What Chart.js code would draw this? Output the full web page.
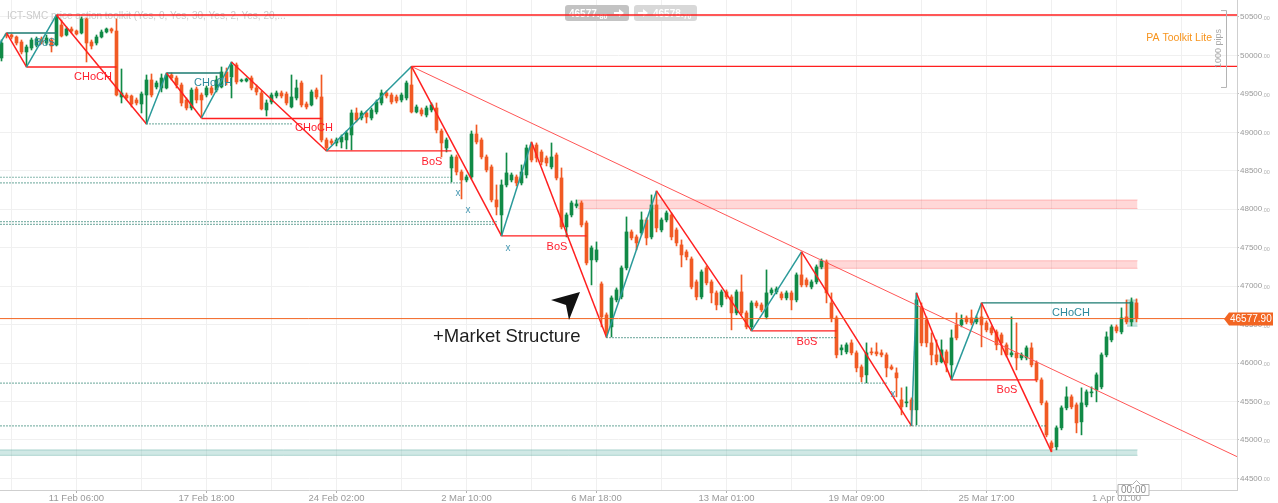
<!DOCTYPE html>
<html><head><meta charset="utf-8">
<script src="https://cdn.jsdelivr.net/npm/chart.js@4/dist/chart.umd.min.js"></script>
<style>html,body{margin:0;padding:0;background:#fff;overflow:hidden}#wrap{width:1278px;height:503px;position:relative}</style>
</head><body><div id="wrap"><canvas id="c" width="1278" height="503"></canvas></div>
<script>
// ---------- DATA ----------
const opens = [
49967,50279,50266,50240,50175,50045,50097,50136,50214,50162,
50201,50136,50396,50266,50344,50318,50292,50474,50175,50162,
50240,50305,50344,50318,49460,49486,49473,49421,49369,49486,
49681,49590,49577,49577,49746,49707,49616,49421,49317,49564,
49486,49486,49577,49551,49590,49785,49720,49876,49668,49668,
49707,49577,49512,49291,49395,49473,49512,49499,49330,49447,
49642,49369,49356,49551,49460,48901,48888,48862,48875,48901,
48966,49252,49187,49252,49187,49265,49382,49512,49486,49460,
49421,49447,49616,49265,49291,49226,49291,49317,49018,48797,
48537,48680,48485,48381,48420,48979,48901,48680,48550,48121,
47926,48316,48381,48420,48342,48446,48836,48836,48745,48667,
48550,48706,48407,47770,47926,48043,48082,47822,47341,47341,
47029,46626,46470,46821,46860,47237,47705,47640,47692,47861,
47640,48056,47731,47861,47926,47731,47536,47445,47354,47055,
46860,47237,47055,46912,46756,46925,46860,46652,46925,46652,
46470,46782,46756,46600,46912,46925,46899,46847,46912,46821,
47146,47081,46990,47055,47250,47315,46782,46587,46171,46145,
46262,46132,45950,45846,46145,46145,46132,46106,45950,45872,
45521,45482,45521,45391,46730,46561,46262,46106,46015,46145,
45976,46496,46496,46587,46587,46535,46600,46522,46457,46405,
46366,46236,46106,46132,46067,46067,46197,46002,45781,45482,
44962,44910,45157,45417,45560,45456,45235,45456,45612,45651,
45690,46106,46301,46470,46405,46600,46535,46782];
const highs = [
50201,50292,50279,50253,50201,50136,50227,50240,50240,50266,
50227,50526,50461,50370,50370,50331,50500,50487,50201,50266,
50331,50357,50357,50474,49824,49512,49486,49447,49525,49746,
49759,49668,49759,49772,49772,49733,49642,49447,49577,49590,
49512,49603,49603,49733,49850,49837,49915,49902,49694,49707,
49733,49616,49538,49421,49512,49538,49538,49525,49746,49681,
49668,49395,49551,49577,49746,48927,48914,48927,48966,49018,
49291,49317,49278,49278,49317,49421,49551,49538,49512,49486,
49512,49668,49857,49356,49317,49343,49382,49382,49044,48927,
48706,48706,48511,48446,49018,49096,48927,48706,48576,48316,
48381,48732,48472,48446,48576,48836,48875,48862,48771,48693,
48862,48732,48537,47952,48108,48121,48108,47848,47523,47575,
47055,46652,46873,46977,47263,47900,47731,47666,47965,47887,
48186,48238,47887,47978,47952,47757,47601,47471,47380,47081,
47211,47263,47081,46938,46951,46951,46886,46951,47146,46678,
46808,46808,46782,47211,46977,46990,46925,46938,46938,47172,
47445,47107,47081,47276,47354,47341,46912,46613,46236,46262,
46301,46158,45976,46262,46197,46262,46171,46132,45976,45937,
45677,45690,45547,46912,46782,46600,46392,46301,46301,46171,
46431,46652,46626,46613,46691,46613,46782,46548,46483,46431,
46392,46262,46600,46522,46132,46223,46262,46028,45807,45508,
44988,45183,45443,45690,45586,45482,45677,45651,45690,45872,
46132,46405,46496,46496,46717,46821,46847,46834];
const lows = [
49928,50227,50214,50136,50019,49850,50071,50110,50149,50136,
50045,50123,50240,50253,50292,50266,50279,49915,50084,50136,
50227,50292,50292,49473,49382,49421,49330,49356,49252,49109,
49460,49564,49525,49564,49681,49577,49343,49291,49291,49382,
49187,49460,49486,49525,49577,49616,49447,49629,49655,49655,
49551,49486,49291,49213,49369,49447,49447,49356,49317,49421,
49330,49304,49343,49434,48875,48758,48836,48823,48797,48784,
48771,49135,49161,49122,49161,49239,49356,49447,49369,49382,
49395,49421,49252,49252,49213,49200,49265,48992,48680,48745,
48355,48446,48134,48355,48394,48849,48654,48485,48095,47926,
47653,48290,48355,48303,48316,48407,48615,48615,48576,48563,
48524,48381,47744,47640,47900,48017,47770,47276,47016,47315,
46470,46335,46340,46795,46834,47211,47601,47471,47666,47536,
47614,47705,47705,47835,47601,47523,47250,47341,46964,46821,
46834,47016,46782,46691,46730,46834,46431,46626,46626,46444,
46418,46717,46665,46574,46886,46899,46821,46821,46691,46795,
46990,46990,46964,47029,47224,46782,46535,46067,46106,46119,
46106,45885,45755,45742,46106,46093,46080,45820,45911,45560,
45326,45430,45183,45196,46223,46210,45976,45976,46002,45885,
45781,46301,46470,46509,46496,46509,46210,46405,46366,46171,
46106,46080,46080,45911,46041,46041,45950,45755,45456,45040,
44845,44871,45131,45391,45404,45092,45066,45430,45560,45495,
45664,46080,46275,46392,46379,46509,46483,46535];
const closes = [
50162,50253,50240,50162,50045,50110,50201,50214,50175,50227,
50123,50500,50253,50344,50318,50279,50474,50162,50123,50240,
50305,50344,50318,49486,49512,49447,49369,49382,49499,49681,
49486,49642,49707,49746,49707,49616,49382,49317,49551,49421,
49421,49577,49512,49681,49785,49655,49876,49655,49681,49694,
49577,49525,49304,49382,49486,49512,49473,49382,49460,49577,
49356,49330,49525,49460,48901,48797,48862,48901,48940,48992,
49252,49161,49252,49200,49291,49395,49512,49473,49395,49408,
49486,49642,49265,49330,49239,49317,49356,49031,48862,48901,
48680,48485,48381,48420,48979,48875,48680,48511,48121,48030,
48316,48472,48446,48342,48485,48797,48641,48667,48615,48602,
48680,48407,47770,47926,48082,48069,47796,47302,47497,47471,
46600,46392,46847,46951,47237,47705,47627,47562,47861,47627,
48056,47757,47861,47952,47640,47562,47406,47380,46990,46860,
47185,47042,46912,46756,46925,46860,46652,46925,46652,46470,
46782,46743,46691,46912,46951,46964,46847,46912,46821,47146,
47016,47016,47055,47250,47328,46912,46587,46106,46197,46236,
46132,45937,45820,46132,46132,46119,46106,45937,45924,45807,
45430,45495,45391,46821,46262,46262,46106,46015,46171,46002,
46327,46327,46561,46535,46522,46587,46496,46431,46392,46236,
46262,46106,46132,46067,46106,46197,45976,45781,45482,45066,
44897,45157,45417,45560,45430,45222,45482,45625,45625,45846,
46106,46340,46470,46418,46587,46535,46795,46577.9];

const tickIdx = [15,41,67,93,119,145,171,197,223];
const tickLabels = ["11 Feb 06:00","17 Feb 18:00","24 Feb 02:00","2 Mar 10:00","6 Mar 18:00","13 Mar 01:00","19 Mar 09:00","25 Mar 17:00","1 Apr 01:00"];
const gridIdx = [2,15,28,41,54,67,80,93,106,119,132,145,158,171,184,197,210,223,236];
const priceTicks = [44500,45000,45500,46000,46500,47000,47500,48000,48500,49000,49500,50000,50500];

// zigzag swing points
const zigIdx   = [-1,1,5,11,29,33,40,46,65,82,100,106,121,131,150,160,182,183,190,196,210];
const zigPrice = [50090,50292,49850,50526,49109,49772,49187,49915,48758,49857,47653,48875,46335,48238,46418,47445,45183,46912,45781,46782,44845];

// trend line
const trendIdx = [82, 248];
const trendPrice = [49857, 44755];

// bearish structure levels
const redFrom  = [11, 82, 5, 40, 65, 100, 150, 190];
const redTo    = [250, 250, 23, 64, 90, 117, 167, 207];
const redPrice = [50526, 49857, 49850, 49180, 48758, 47653, 46418, 45781];
// bullish structure levels
const tealFrom  = [1, 33, 196];
const tealTo    = [11, 44, 226.3];
const tealPrice = [50292, 49772, 46782];
// dotted liquidity levels
const dotFrom  = [29, -2, -2, -2, -2, 121, -2, -2];
const dotTo    = [58, 90, 92, 99, 99, 167, 177, 209];
const dotPrice = [49109, 48416, 48342, 47839, 47803, 46331, 45738, 45183];

// zones
const zoneFrom   = [115.3, 163.3, -2, 225.1];
const zoneTo     = [227.2, 227.2, 227.2, 227.2];
const zoneTop    = [48120, 47330, 44870, 46820];
const zoneBottom = [48010, 47232, 44800, 46480];
const zoneKind   = ["supply","supply","demand","demand"];

// structure labels
const labelText  = ["BoS","CHoCH","CHoCH","CHoCH","BoS","BoS","BoS","BoS","CHoCH"];
const labelIdx   = [8.7, 18.3, 42.3, 62.5, 86.1, 111.1, 161.1, 201.1, 213.9];
const labelPrice = [50162, 49720, 49642, 49057, 48615, 47510, 46276, 45651, 46652];
const labelBull  = [true, false, true, false, false, false, false, false, true];
const xMarkIdx   = [91.3, 93.3, 101.3, 178.3];
const xMarkPrice = [48212, 47991, 47497, 45599];

const bidPrice = 46577.80, askPrice = 46578.70;
const pipsTop = 50590, pipsSpan = 1000;
const indicatorTitle = "ICT-SMC price action toolkit (Yes, 0, Yes, 30, Yes, 2, Yes, 20,...";

// ---------- STYLE ----------
const FAM = '"Liberation Sans", Arial, sans-serif';
const GREEN = '#118a46', ORANGE = '#f15a24';
const RED = '#ff1f1f', TEAL = '#2a9a9a', TEAL_DARK = '#1b7a70', DOT = '#0f6f5c';
Chart.defaults.font.family = FAM;

const N = closes.length;
const candleColor = closes.map((c, i) => c >= opens[i] ? GREEN : ORANGE);
const wickData = lows.map((l, i) => ({x: i, y: [l, highs[i]]}));
const bodyData = opens.map((o, i) => ({x: i, y: [o, closes[i]]}));
const lastPrice = closes[N - 1];

const seg = (a, b, p) => [{x: a, y: p}, {x: b, y: p}];
const lineDs = (data, color, width, order, dash) => ({type: 'line', data, borderColor: color, borderWidth: width, borderDash: dash || [], pointRadius: 0, fill: false, tension: 0, order});

const datasets = [];
zoneFrom.forEach((f, k) => {
  const demand = zoneKind[k] === 'demand';
  const bc = demand ? 'rgba(90,170,160,0.45)' : 'rgba(255,90,90,0.35)';
  const fc = demand ? 'rgba(120,190,180,0.35)' : 'rgba(255,60,60,0.2)';
  datasets.push(Object.assign(lineDs(seg(f, zoneTo[k], zoneTop[k]), bc, 1, 20), {fill: '+1', backgroundColor: fc}));
  datasets.push(lineDs(seg(f, zoneTo[k], zoneBottom[k]), bc, 1, 20));
});
datasets.push({type: 'bar', data: wickData, backgroundColor: candleColor, barThickness: 1, grouped: false, order: 10});
datasets.push({type: 'bar', data: bodyData, backgroundColor: candleColor, barThickness: 3, grouped: false, minBarLength: 1, order: 9});
dotFrom.forEach((f, k) => datasets.push(lineDs(seg(f, dotTo[k], dotPrice[k]), DOT, 1.2, 6, [1, 2])));
redFrom.forEach((f, k) => datasets.push(lineDs(seg(f, redTo[k], redPrice[k]), RED, 1.3, 5)));
tealFrom.forEach((f, k) => datasets.push(lineDs(seg(f, tealTo[k], tealPrice[k]), TEAL_DARK, 1.3, 5)));
datasets.push(lineDs(trendIdx.map((x, k) => ({x, y: trendPrice[k]})), '#ff5555', 1, 4));
datasets.push(Object.assign(lineDs(zigIdx.map((x, k) => ({x, y: zigPrice[k]})), RED, 1.5, 3), {
  segment: {borderColor: c => c.p1.parsed.y > c.p0.parsed.y ? TEAL : RED}
}));
datasets.push(lineDs(seg(-2, 250, lastPrice), '#f26522', 1, 1));

function rr(ctx, x, y, w, h, r) {
  ctx.beginPath(); ctx.moveTo(x + r, y); ctx.lineTo(x + w - r, y); ctx.quadraticCurveTo(x + w, y, x + w, y + r);
  ctx.lineTo(x + w, y + h - r); ctx.quadraticCurveTo(x + w, y + h, x + w - r, y + h); ctx.lineTo(x + r, y + h);
  ctx.quadraticCurveTo(x, y + h, x, y + h - r); ctx.lineTo(x, y + r); ctx.quadraticCurveTo(x, y, x + r, y); ctx.closePath();
}
function arrow(ctx, x, y, w) {
  ctx.strokeStyle = '#fff'; ctx.fillStyle = '#fff'; ctx.lineWidth = 2;
  ctx.beginPath(); ctx.moveTo(x, y); ctx.lineTo(x + w - 4, y); ctx.stroke();
  ctx.beginPath(); ctx.moveTo(x + w, y); ctx.lineTo(x + w - 5, y - 4); ctx.lineTo(x + w - 5, y + 4); ctx.closePath(); ctx.fill();
}
function priceText(ctx, v, x, y) {
  const [a, b] = v.toFixed(2).split('.');
  ctx.fillStyle = '#fff';
  ctx.font = 'bold 10px ' + FAM; ctx.fillText(a + '.', x, y);
  const w = ctx.measureText(a + '.').width;
  ctx.font = 'bold 7px ' + FAM; ctx.fillText(b, x + w, y + 2);
}

const overlay = {
  id: 'overlay',
  beforeDatasetsDraw(chart) {
    const ctx = chart.ctx;
    ctx.save();
    ctx.textAlign = 'left'; ctx.textBaseline = 'alphabetic';
    ctx.font = '10px ' + FAM; ctx.fillStyle = '#cbcbcb';
    ctx.fillText(indicatorTitle, 7, 19);
    rr(ctx, 565, 5, 64, 16, 3); ctx.fillStyle = '#c3c3c3'; ctx.fill();
    rr(ctx, 634, 5, 63, 16, 3); ctx.fillStyle = '#d8d8d8'; ctx.fill();
    priceText(ctx, bidPrice, 569, 17);
    arrow(ctx, 614, 13, 10);
    arrow(ctx, 638, 13, 10);
    priceText(ctx, askPrice, 653, 17);
    ctx.restore();
  },
  afterDatasetsDraw(chart) {
    const ctx = chart.ctx, xs = chart.scales.x, ys = chart.scales.y;
    ctx.save();
    ctx.textAlign = 'center'; ctx.textBaseline = 'middle';
    ctx.font = '11px ' + FAM;
    labelText.forEach((t, k) => {
      ctx.fillStyle = labelBull[k] ? '#2e8a9c' : '#ff1e2d';
      ctx.fillText(t, xs.getPixelForValue(labelIdx[k]), ys.getPixelForValue(labelPrice[k]));
    });
    ctx.font = '10px ' + FAM; ctx.fillStyle = '#4a9ab4';
    xMarkIdx.forEach((v, k) => ctx.fillText('x', xs.getPixelForValue(v), ys.getPixelForValue(xMarkPrice[k])));
    ctx.restore();
  },
  afterDraw(chart) {
    const ctx = chart.ctx, xs = chart.scales.x, ys = chart.scales.y;
    ctx.save();
    // decimals of price axis
    ctx.textAlign = 'left'; ctx.textBaseline = 'middle';
    ys.ticks.forEach(t => {
      const y = ys.getPixelForValue(t.value);
      ctx.font = '8px ' + FAM;
      const w = ctx.measureText(String(t.value)).width;
      ctx.font = '5.5px ' + FAM; ctx.fillStyle = '#b0b0b0';
      ctx.fillText('.00', ys.left + 3 + w, y + 1.5);
    });
    // 1000 pips bracket
    const pt = ys.getPixelForValue(pipsTop), pb = ys.getPixelForValue(pipsTop - pipsSpan);
    ctx.strokeStyle = '#b4b4b4'; ctx.lineWidth = 1;
    ctx.beginPath(); ctx.moveTo(1221, pt + 0.5); ctx.lineTo(1226.5, pt + 0.5); ctx.lineTo(1226.5, pb + 0.5); ctx.lineTo(1221, pb + 0.5); ctx.stroke();
    ctx.save(); ctx.translate(1219, (pt + pb) / 2); ctx.rotate(-Math.PI / 2);
    ctx.textAlign = 'center'; ctx.font = '9px ' + FAM; ctx.fillStyle = '#a8a8a8';
    ctx.fillText(pipsSpan + ' pips', 0, 0); ctx.restore();
    // PA toolkit
    ctx.textAlign = 'right'; ctx.font = '10.5px ' + FAM; ctx.fillStyle = '#f7941d';
    ctx.fillText('PA Toolkit Lite', 1212, 38);
    // price tag
    const py = Math.round(ys.getPixelForValue(lastPrice));
    ctx.fillStyle = '#f26522';
    ctx.beginPath(); ctx.moveTo(1224, py); ctx.lineTo(1229, py - 6.5); ctx.lineTo(1273, py - 6.5); ctx.lineTo(1273, py + 6.5); ctx.lineTo(1229, py + 6.5); ctx.closePath(); ctx.fill();
    ctx.fillStyle = '#fff'; ctx.textAlign = 'left'; ctx.font = '10px ' + FAM;
    ctx.fillText(lastPrice.toFixed(2), 1230, py + 0.5);
    // time box of last candle
    const cx = xs.getPixelForValue(N - 1);
    ctx.fillStyle = '#fff'; ctx.strokeStyle = '#b0b0b0';
    ctx.beginPath(); ctx.moveTo(cx - 18.5, 484.5); ctx.lineTo(cx - 4, 484.5); ctx.lineTo(cx, 480.5); ctx.lineTo(cx + 4, 484.5);
    ctx.lineTo(cx + 12.5, 484.5); ctx.lineTo(cx + 12.5, 495.5); ctx.lineTo(cx - 18.5, 495.5); ctx.closePath(); ctx.fill(); ctx.stroke();
    ctx.fillStyle = '#8a8a8a'; ctx.textAlign = 'center'; ctx.font = '10px ' + FAM;
    ctx.fillText('00:00', cx - 3, 490.5);
    // annotation text + cursor
    ctx.textAlign = 'left'; ctx.textBaseline = 'alphabetic';
    ctx.font = '18.5px ' + FAM; ctx.fillStyle = '#1e1e1e';
    ctx.fillText('+Market Structure', 433, 342);
    ctx.fillStyle = '#111';
    ctx.beginPath(); ctx.moveTo(551, 300); ctx.lineTo(580, 292); ctx.lineTo(569, 320); ctx.lineTo(566, 305); ctx.closePath(); ctx.fill();
    ctx.restore();
  }
};

new Chart(document.getElementById('c'), {
  type: 'bar',
  data: {datasets},
  options: {
    responsive: false, animation: false, devicePixelRatio: 1, events: [],
    layout: {padding: 0},
    plugins: {legend: {display: false}, tooltip: {enabled: false}},
    scales: {
      x: {
        type: 'linear', min: -0.3, max: 247.1, offset: false,
        grid: {color: '#f0f0f0', offset: false, tickLength: 3,
          tickColor: c => tickIdx.includes(c.tick && c.tick.value) ? '#b0b0b0' : 'rgba(0,0,0,0)'},
        border: {color: '#cfcfcf'},
        ticks: {autoSkip: false, maxRotation: 0, padding: 0, color: '#9a9a9a', font: {size: 9.5},
          callback: v => { const k = tickIdx.indexOf(v); return k >= 0 ? tickLabels[k] : ''; }},
        afterBuildTicks: s => { s.ticks = gridIdx.map(v => ({value: v})); },
        afterFit: s => { s.height = 13; s.paddingLeft = 0; s.paddingRight = 0; }
      },
      y: {
        type: 'linear', position: 'right', min: 44349, max: 50721,
        grid: {color: '#f0f0f0', tickLength: 2, tickColor: '#c0c0c0'},
        border: {color: '#cfcfcf'},
        ticks: {autoSkip: false, padding: 1, color: '#9a9a9a', font: {size: 8},
          callback: v => String(v)},
        afterBuildTicks: s => { s.ticks = priceTicks.map(v => ({value: v})); },
        afterFit: s => { s.width = 41; s.paddingTop = 0; s.paddingBottom = 0; }
      }
    }
  },
  plugins: [overlay]
});
</script>
</body></html>
